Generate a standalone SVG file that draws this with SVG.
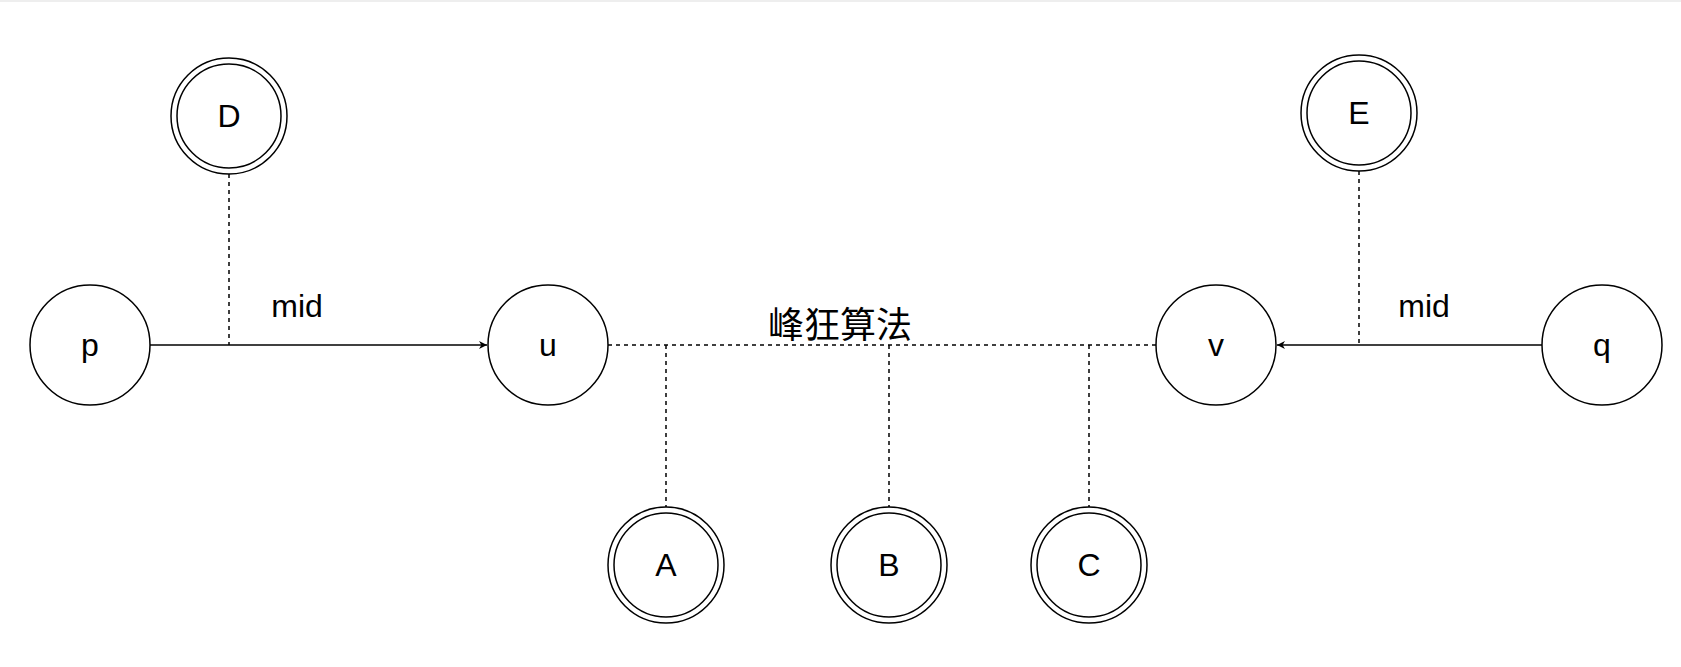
<svg xmlns="http://www.w3.org/2000/svg" width="1681" height="667" viewBox="0 0 1681 667">
<style>
circle{fill:#fff;stroke:#000;stroke-width:1.5}
text{font-family:"Liberation Sans",Arial,sans-serif;font-size:32px;text-anchor:middle;dominant-baseline:central;fill:#000}
.d{stroke:#000;stroke-width:1.5;stroke-dasharray:4 4;fill:none}
.s{stroke:#000;stroke-width:1.5;fill:none}
</style>
<defs><marker id="a" viewBox="0 0 10 10" refX="10" refY="5" markerWidth="8" markerHeight="8" orient="auto" markerUnits="userSpaceOnUse"><path d="M0,0L10,5L0,10L3,5z" fill="#000"/></marker></defs>
<rect width="1681" height="667" fill="#fff"/>
<line x1="0" y1="1" x2="1681" y2="1" stroke="#ddd"/>
<g id="connectors">
<line class="s" x1="150" y1="345" x2="487" y2="345" marker-end="url(#a)"/>
<line class="s" x1="1542" y1="345" x2="1277" y2="345" marker-end="url(#a)"/>
<line class="d" x1="608" y1="345" x2="1156" y2="345"/>
<line class="d" x1="229" y1="174" x2="229" y2="345"/>
<line class="d" x1="1359" y1="171" x2="1359" y2="345"/>
<line class="d" x1="666" y1="345" x2="666" y2="507"/>
<line class="d" x1="889" y1="345" x2="889" y2="507"/>
<line class="d" x1="1089" y1="345" x2="1089" y2="507"/>
<text x="297" y="306">mid</text>
<text x="1424" y="306">mid</text>
<text x="840" y="322" style="font-family:'Noto Sans CJK SC',sans-serif;font-size:36px">峰狂算法</text>
</g>
<g id="p"><circle cx="90" cy="345" r="60"/><text x="90" y="345">p</text></g>
<g id="u"><circle cx="548" cy="345" r="60"/><text x="548" y="345">u</text></g>
<g id="v"><circle cx="1216" cy="345" r="60"/><text x="1216" y="345">v</text></g>
<g id="q"><circle cx="1602" cy="345" r="60"/><text x="1602" y="345">q</text></g>
<g id="D"><circle cx="229" cy="116" r="58"/><circle cx="229" cy="116" r="52"/><text x="229" y="116">D</text></g>
<g id="E"><circle cx="1359" cy="113" r="58"/><circle cx="1359" cy="113" r="52"/><text x="1359" y="113">E</text></g>
<g id="A"><circle cx="666" cy="565" r="58"/><circle cx="666" cy="565" r="52"/><text x="666" y="565">A</text></g>
<g id="B"><circle cx="889" cy="565" r="58"/><circle cx="889" cy="565" r="52"/><text x="889" y="565">B</text></g>
<g id="C"><circle cx="1089" cy="565" r="58"/><circle cx="1089" cy="565" r="52"/><text x="1089" y="565">C</text></g>
</svg>
